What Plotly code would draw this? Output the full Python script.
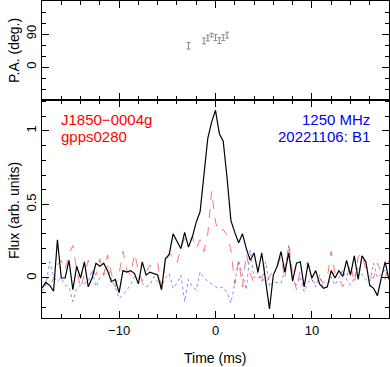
import numpy as np
import plotly.graph_objects as go

# time grid (ms), bins of 0.4 ms
t_start, t_step, n_bins = -18.0, 0.4, 91
time_ms = [round(t_start + t_step * i, 2) for i in range(n_bins)]

flux_I = [-0.07, -0.03, -0.05, -0.09, 0.26, 0.0, 0.0, 0.12, -0.08, 0.08,
          0.0, 0.11, -0.06, 0.0, 0.10, 0.08, 0.10, 0.05, -0.025, -0.01,
          -0.10, 0.05, 0.04, 0.05, 0.03, -0.04, 0.11, 0.02, 0.04, 0.03,
          0.02, -0.08, 0.13, 0.16, 0.30, 0.25, 0.20, 0.31, 0.21, 0.28,
          0.38, 0.45, 0.72, 0.95, 1.06, 1.14, 0.98, 0.93, 0.68, 0.39,
          0.31, 0.24, 0.30, 0.20, 0.12, 0.17, 0.04, 0.17, -0.02, -0.21,
          0.02, 0.08, 0.18, 0.04, 0.17, -0.02, 0.10, 0.11, -0.06, 0.10,
          0.0, 0.05, -0.04, -0.07, -0.06, 0.05, 0.0, 0.05, 0.01, 0.12,
          0.02, 0.15, -0.01, 0.15, 0.11, -0.05, -0.07, -0.12, 0.0, 0.11,
          -0.01]

flux_L = [-0.06, -0.025, -0.06, 0.0, 0.088, 0.12, 0.054, 0.167, 0.22, 0.054,
          -0.07, 0.03, 0.12, 0.054, 0.02, 0.13, 0.02, 0.156, 0.03, -0.06,
          0.03, 0.18, 0.054, 0.02, 0.167, 0.054, -0.025, 0.04, 0.088, 0.065,
          0.10, -0.06, 0.10, 0.167, 0.145, 0.10, 0.20, 0.27, 0.235, 0.28,
          0.20, 0.26, 0.18, 0.30, 0.59, 0.38, 0.31, 0.33, 0.29, 0.19,
          -0.04, 0.12, -0.06, 0.167, 0.03, -0.036, 0.0, 0.01, -0.047, 0.01,
          0.05, 0.08, 0.145, -0.01, 0.236, 0.03, -0.08, 0.054, 0.08, 0.11,
          -0.01, -0.047, 0.0, -0.036, 0.0, 0.18, 0.03, 0.0, -0.06, 0.0,
          0.10, -0.036, 0.145, 0.167, 0.05, 0.01, 0.0, 0.10, 0.04, -0.01,
          0.12]

flux_V = [-0.093, -0.048, 0.11, 0.009, -0.025, 0.0, -0.048, -0.06, -0.16, -0.07,
          -0.048, -0.036, -0.025, 0.054, -0.06, 0.0, 0.02, 0.088, -0.01, -0.06,
          -0.14, -0.115, -0.082, -0.048, 0.009, 0.0, -0.036, -0.06, -0.048, 0.009,
          -0.025, -0.06, 0.0, 0.03, -0.07, -0.036, 0.02, -0.16, -0.01, -0.06,
          -0.082, 0.04, 0.0, -0.02, -0.04, -0.06, -0.07, -0.06, -0.10, -0.17,
          -0.036, 0.12, 0.02, -0.08, 0.19, 0.0, 0.04, -0.025, 0.11, -0.06,
          -0.025, -0.03, -0.036, 0.054, 0.22, -0.025, -0.048, 0.009, -0.093, -0.03,
          -0.01, -0.06, 0.02, -0.07, -0.06, 0.009, -0.048, 0.0, 0.054, -0.01,
          -0.048, 0.0, 0.077, 0.02, -0.01, -0.025, 0.10, 0.0, 0.03, 0.054,
          -0.01]

pa_time = [-2.8, -1.2, -0.8, -0.4, 0.0, 0.4, 0.8, 1.2]
pa_deg = [58, 71, 79, 87, 80, 72, 80, 87]
pa_err = [9, 8, 8, 5, 8, 8, 8, 8]

fig = go.Figure()

fig.add_trace(go.Scatter(x=pa_time, y=pa_deg, mode="markers",
                         marker=dict(size=1, color="#888888"),
                         error_y=dict(type="data", array=pa_err, color="#888888",
                                      thickness=1, width=2),
                         xaxis="x2", yaxis="y2", showlegend=False))

fig.add_trace(go.Scatter(x=time_ms, y=flux_V, mode="lines",
                         line=dict(color="rgba(90,90,255,0.7)", width=1, dash="dot"),
                         xaxis="x", yaxis="y", showlegend=False))
fig.add_trace(go.Scatter(x=time_ms, y=flux_L, mode="lines",
                         line=dict(color="rgba(255,60,60,0.7)", width=1, dash="dash"),
                         xaxis="x", yaxis="y", showlegend=False))
fig.add_trace(go.Scatter(x=time_ms, y=flux_I, mode="lines",
                         line=dict(color="black", width=1.2),
                         xaxis="x", yaxis="y", showlegend=False))

font = dict(family="Liberation Sans, Arial, sans-serif", size=13, color="black")
axis_common = dict(showline=True, linecolor="black", linewidth=1, mirror="ticks",
                   ticks="inside", ticklen=7, tickcolor="black", showgrid=False,
                   zeroline=False, tickfont=font)

fig.update_layout(
    width=390, height=367,
    margin=dict(l=42, r=1, t=1, b=49),
    paper_bgcolor="white", plot_bgcolor="white",
    font=font,
    xaxis=dict(range=[-18, 18], dtick=10, tick0=0, anchor="y",
               minor=dict(dtick=2, ticklen=4, ticks="inside", tickcolor="black"),
               **axis_common),
    xaxis2=dict(range=[-18, 18], dtick=10, tick0=0, anchor="y2", matches="x",
                showticklabels=False,
                minor=dict(dtick=2, ticklen=4, ticks="inside", tickcolor="black"),
                **axis_common),
    yaxis=dict(domain=[0, 0.6877], range=[-0.272, 1.21], dtick=0.5, tick0=0,
               tickangle=-90,
               minor=dict(dtick=0.1, ticklen=4, ticks="inside", tickcolor="black"),
               **axis_common),
    yaxis2=dict(domain=[0.6877, 1.0], range=[-90, 180], tickvals=[0, 90],
                tickangle=-90, anchor="x2",
                minor=dict(tickvals=[-60, -30, 30, 60, 120, 150], ticklen=4,
                           ticks="inside", tickcolor="black"),
                **axis_common),
)

ann = []
title_font = dict(font, size=14)
ann.append(dict(text="Time (ms)", xref="paper", yref="paper", x=0.4986, y=-0.125,
                xanchor="center", yanchor="middle", showarrow=False, font=title_font))
ann.append(dict(text="Flux (arb. units)", xref="paper", yref="paper", x=-0.081, y=0.34,
                xanchor="center", yanchor="middle", textangle=-90, showarrow=False,
                font=title_font))
ann.append(dict(text="P.A. (deg.)", xref="paper", yref="paper", x=-0.081, y=0.845,
                xanchor="center", yanchor="middle", textangle=-90, showarrow=False,
                font=title_font))
red = dict(font, size=15, color="#ff0000")
blue = dict(font, size=15, color="#0000ff")
ann.append(dict(text="J1850−0004g", xref="paper", yref="paper", x=0.0490, y=0.627,
                xanchor="left", yanchor="middle", showarrow=False, font=red))
ann.append(dict(text="gpps0280", xref="paper", yref="paper", x=0.0490, y=0.573,
                xanchor="left", yanchor="middle", showarrow=False, font=red))
ann.append(dict(text="1250 MHz", xref="paper", yref="paper", x=0.951, y=0.627,
                xanchor="right", yanchor="middle", showarrow=False, font=blue))
ann.append(dict(text="20221106: B1", xref="paper", yref="paper", x=0.951, y=0.573,
                xanchor="right", yanchor="middle", showarrow=False, font=blue))
fig.update_layout(annotations=ann)

fig.write_html("out.html", config={"displayModeBar": False},
               post_script="document.body.style.margin='0';document.body.style.overflow='hidden';")
